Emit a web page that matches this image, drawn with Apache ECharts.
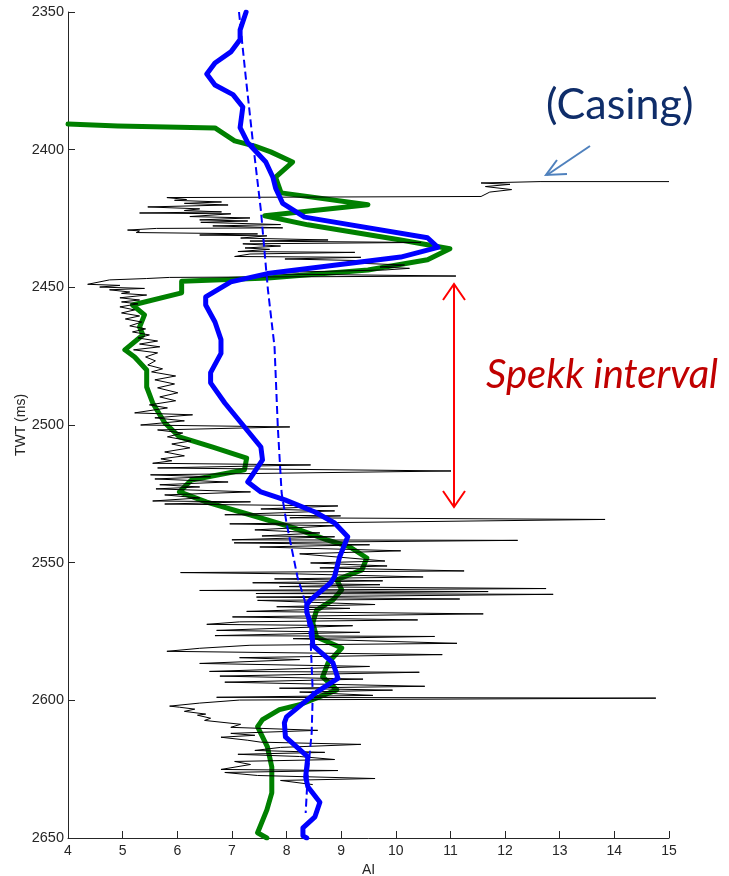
<!DOCTYPE html>
<html>
<head>
<meta charset="utf-8">
<script src="https://cdn.jsdelivr.net/npm/echarts/dist/echarts.min.js"></script>
<style>
html,body{margin:0;padding:0;background:#fff;}
#chart{width:729px;height:876px;}
</style>
</head>
<body>
<div id="chart"></div>
<script>
// ---- Data (AI vs TWT) ----
var xTicks = [4,5,6,7,8,9,10,11,12,13,14,15];
var yTicks = [2350,2400,2450,2500,2550,2600,2650];

// Black: high-resolution AI log
var blackAI = [15.00,12.64,11.56,12.09,11.64,12.12,11.72,11.56,5.81,
6.17,5.95,6.81,6.13,6.93,5.46,6.41,6.13,6.81,5.31,6.98,6.23,7.33,6.41,7.29,6.43,7.89,6.65,7.93,5.62,5.09,5.31,5.25,7.47,6.41,7.64,7.16,8.76,7.33,10.46,7.20,7.89,7.24,7.69,7.11,9.25,7.33,7.05,9.36,7.97,9.59,9.16,10.16,9.71,10.25,9.80,8.24,7.51,11.10,5.86,5.44,4.76,4.36,4.95,4.58,5.40,4.76,5.13,4.98,5.44,
4.95,5.31,4.98,5.28,4.95,5.22,4.98,5.31,5.05,5.35,5.13,5.42,5.18,5.49,5.28,5.64,5.31,5.68,5.20,5.64,5.42,5.60,5.46,5.73,5.53,5.97,5.59,5.95,5.64,6.01,5.68,5.97,5.49,5.82,5.22,6.28,5.59,6.13,5.33,8.06,5.64,6.10,5.82,6.25,5.90,6.23,5.77,6.13,5.70,5.90,
5.55,8.44,5.64,11.01,5.51,6.61,5.59,6.93,5.68,6.41,5.61,7.34,5.77,6.41,5.55,7.34,5.77,8.94,7.53,8.88,6.87,8.99,8.06,13.83,6.96,8.88,7.42,8.61,7.55,8.88,7.00,12.23,7.04,9.52,7.51,10.09,8.24,9.80,8.44,9.84,8.61,11.25,6.06,8.24,10.50,7.78,9.76,7.38,9.71,7.87,12.75,6.41,11.69,7.44,12.88,7.45,11.17,7.47,
9.62,7.82,9.16,7.27,11.60,7.01,10.40,7.14,6.54,9.21,6.72,9.34,6.69,10.71,8.12,11.12,7.33,6.41,5.81,10.85,7.14,8.24,6.41,9.52,6.59,10.43,6.78,9.40,6.87,10.53,7.87,9.94,8.24,9.58,6.72,14.76,7.14,6.41,5.86,6.04,
6.32,6.13,6.52,6.37,6.61,6.50,7.16,6.98,8.57,6.98,7.42,6.80,7.29,7.53,9.36,7.89,7.42,8.70,7.11,8.24,8.88,7.05,7.34,6.80,8.94,6.87,7.47,9.62,7.89,8.48];
var blackTWT = [2411.6,2411.6,2412.1,2412.6,2413.4,2414.5,2415.4,2417.0,2417.4,
2418.1,2418.4,2419.0,2419.5,2420.1,2420.8,2421.5,2422.1,2422.6,2423.0,2423.3,2424.3,2424.8,2425.5,2425.9,2426.4,2427.2,2427.7,2428.4,2428.6,2429.2,2429.5,2430.1,2430.6,2431.0,2431.3,2432.1,2432.8,2433.2,2433.7,2434.2,2435.0,2435.7,2436.2,2437.0,2437.3,2437.9,2438.8,2439.1,2439.7,2440.4,2441.1,2441.9,2442.6,2443.1,2443.7,2444.4,2445.1,2445.9,2446.4,2446.8,2447.3,2448.9,2449.3,2449.9,2450.4,2450.9,2451.7,2452.2,2452.8,
2453.8,2454.6,2455.3,2456.0,2457.1,2458.2,2459.3,2460.4,2461.5,2462.6,2464.0,2465.1,2466.2,2467.3,2468.4,2469.5,2470.6,2471.6,2472.7,2473.8,2475.3,2476.7,2478.2,2479.6,2480.7,2482.2,2483.6,2485.1,2486.5,2488.3,2489.8,2491.2,2492.7,2493.8,2495.6,2496.3,2497.4,2498.5,2500.0,2500.7,2501.8,2502.9,2504.3,2505.8,2506.9,2508.3,2509.8,2511.2,2512.3,2513.0,
2513.9,2514.5,2515.6,2516.7,2518.1,2518.8,2519.6,2520.7,2521.7,2522.5,2523.2,2524.3,2525.4,2526.5,2527.6,2527.9,2528.7,2529.4,2530.5,2531.2,2532.6,2533.0,2533.7,2534.3,2535.9,2536.6,2538.1,2539.2,2540.3,2540.6,2541.7,2541.9,2542.8,2543.5,2544.3,2545.7,2546.8,2549.4,2550.1,2551.2,2551.9,2553.0,2553.6,2554.1,2555.2,2555.9,2556.6,2557.3,2558.0,2558.7,2559.4,2560.1,2560.5,2561.2,2561.5,2562.5,2563.2,2563.7,
2565.2,2566.0,2566.6,2567.7,2568.6,2569.7,2570.8,2571.5,2572.4,2572.9,2574.6,2575.3,2576.5,2576.8,2577.6,2579.3,2580.0,2581.1,2582.2,2583.4,2584.5,2585.2,2586.6,2587.7,2589.5,2589.8,2591.2,2592.3,2593.4,2594.9,2595.6,2596.3,2597.0,2598.2,2598.9,2599.2,2599.9,2601.0,2602.1,2602.5,
2603.2,2604.0,2605.0,2605.4,2606.5,2607.3,2608.7,2609.8,2610.9,2612.0,2612.7,2613.4,2614.5,2615.2,2616.0,2617.1,2618.2,2618.9,2619.6,2620.4,2621.5,2622.2,2623.3,2625.1,2625.5,2626.2,2627.3,2628.4,2629.1,2630.6];

// Green: blocked / upscaled AI
var greenAI = [4.00,4.91,6.69,7.05,7.42,7.71,8.11,7.80,7.90,9.49,7.60,8.39,10.09,10.99,10.58,9.49,7.66,6.08,6.08,5.18,5.40,5.31,5.37,5.04,5.22,5.44,5.44,5.55,5.77,6.04,6.65,7.27,7.23,6.26,6.04,6.54,7.33,8.12,8.74,9.16,9.47,9.38,8.92,9.01,8.85,8.55,8.48,8.55,9.01,8.76,8.66,8.92,8.24,7.87,7.56,7.47,7.65,7.73,7.73,7.64,7.47,7.64];
var greenTWT = [2390.7,2391.4,2392.1,2396.8,2398.7,2400.8,2404.5,2410,2415.7,2420,2424,2427.3,2432.8,2436,2440,2443.7,2446.6,2447.8,2452,2456.4,2460,2464.4,2467.3,2472.7,2475.3,2480,2486.2,2492,2499.2,2504.3,2508,2512,2516.3,2520,2524.3,2528,2532.6,2537.3,2541.7,2544.3,2548.3,2552.6,2556.2,2559.9,2563.5,2567.2,2571.9,2577,2581,2586.4,2591.5,2596.2,2601.6,2603.4,2607,2609.6,2616.9,2624.2,2633.6,2639.8,2648.1,2650];

// Blue: inverted AI
var blueAI = [7.26,7.15,7.15,6.98,6.69,6.54,6.69,7.02,7.20,7.15,7.29,7.62,7.75,7.80,7.93,8.33,10.58,10.77,10.09,7.65,6.98,6.52,6.52,6.69,6.80,6.80,6.61,6.61,6.87,7.53,7.56,7.29,7.53,7.97,8.52,8.88,9.12,8.97,8.88,8.81,8.44,8.37,8.37,8.46,8.48,8.85,8.94,8.55,8.00,7.96,7.98,8.39,8.35,8.39,8.61,8.52,8.30,8.30,8.37];
var blueTWT = [2350,2356.5,2360,2364.5,2368.5,2372.5,2376.5,2380,2384.5,2392,2397.5,2404.5,2410,2414,2419.5,2424.5,2432,2435.5,2439,2445,2448,2453.5,2456.4,2462.6,2469,2474,2481,2484.7,2492,2508,2512.7,2520.7,2524.3,2527.2,2531.6,2535.6,2540.6,2548,2555,2557.3,2563.5,2565.3,2568,2573.3,2580,2586.4,2592,2597,2606,2608.2,2613.3,2620.5,2627.8,2631.4,2637,2642.3,2646.3,2649.2,2650];

// Blue dashed: low-frequency trend
var dashAI = [7.13,7.25,7.38,7.53,7.66,7.78,7.84,7.91,8.00,8.20,8.33,8.44,8.48,8.46,8.39,8.35];
var dashTWT = [2350,2373,2396.5,2422,2451,2471.6,2500.7,2524.7,2535.6,2555.2,2563.5,2578,2597.3,2611.8,2626.3,2640.9];

function zip(a, b) { return a.map(function (v, i) { return [v, b[i]]; }); }

var chart = echarts.init(document.getElementById('chart'), null, {renderer: 'canvas'});
var axisColor = '#262626';
var option = {
  animation: false,
  backgroundColor: '#ffffff',
  grid: {left: 68, right: 60, top: 12, bottom: 38, containLabel: false, outerBoundsMode: 'none'},
  xAxis: {
    type: 'value', min: xTicks[0], max: xTicks[xTicks.length - 1], interval: 1,
    name: 'AI', nameLocation: 'middle', nameGap: 19,
    nameTextStyle: {fontSize: 14, color: axisColor, fontFamily: 'Liberation Sans'},
    axisLine: {show: true, onZero: false, lineStyle: {color: axisColor, width: 1}},
    axisTick: {show: true, inside: true, length: 7, lineStyle: {color: axisColor}},
    axisLabel: {fontSize: 14, color: axisColor, margin: 6, fontFamily: 'Liberation Sans',
                formatter: function (v) { return String(v); }},
    splitLine: {show: false}
  },
  yAxis: {
    type: 'value', inverse: true, min: yTicks[0], max: yTicks[yTicks.length - 1], interval: 50,
    name: 'TWT (ms)', nameLocation: 'middle', nameGap: 40, nameRotate: 90, nameMoveOverlap: false,
    nameTextStyle: {fontSize: 14, color: axisColor, fontFamily: 'Liberation Sans'},
    axisLine: {show: true, onZero: false, lineStyle: {color: axisColor, width: 1}},
    axisTick: {show: true, inside: true, length: 7, lineStyle: {color: axisColor}},
    axisLabel: {fontSize: 14.5, color: axisColor, margin: 4, fontFamily: 'Liberation Sans',
                formatter: function (v) { return String(v); }},
    splitLine: {show: false}
  },
  series: [
    {type: 'line', data: zip(greenAI, greenTWT), showSymbol: false, symbol: 'none',
     lineStyle: {color: '#008000', width: 5, join: 'round', cap: 'round'}, z: 2},
    {type: 'line', data: zip(blackAI, blackTWT), showSymbol: false, symbol: 'none',
     lineStyle: {color: '#000000', width: 1}, z: 3},
    {type: 'line', data: zip(blueAI, blueTWT), showSymbol: false, symbol: 'none',
     lineStyle: {color: '#0000FF', width: 5, join: 'round', cap: 'round'}, z: 4},
    {type: 'line', data: zip(dashAI, dashTWT), showSymbol: false, symbol: 'none',
     lineStyle: {color: '#0000FF', width: 2, type: [8, 4]}, z: 5}
  ],
  graphic: [
    {type: 'text', left: 546, top: 84, z: 10,
     style: {text: '(Casing)', font: '43px Lato', fill: '#0F2D69'}},
    {type: 'line', z: 10, shape: {x1: 590, y1: 146, x2: 547, y2: 175},
     style: {stroke: '#4F81BD', lineWidth: 2}},
    {type: 'polyline', z: 10, shape: {points: [[557, 160], [546, 175], [567, 174]]},
     style: {stroke: '#4F81BD', lineWidth: 2, fill: null}},
    {type: 'text', left: 486, top: 355, z: 10,
     style: {text: 'Spekk interval', font: 'italic 40px Lato', fill: '#C00000'}},
    {type: 'line', z: 10, shape: {x1: 454, y1: 284, x2: 454, y2: 507},
     style: {stroke: '#FF0000', lineWidth: 2}},
    {type: 'polyline', z: 10, shape: {points: [[443, 300], [454, 284], [465, 300]]},
     style: {stroke: '#FF0000', lineWidth: 2, fill: null}},
    {type: 'polyline', z: 10, shape: {points: [[443, 491], [454, 507], [465, 491]]},
     style: {stroke: '#FF0000', lineWidth: 2, fill: null}}
  ]
};
chart.setOption(option);
</script>
</body>
</html>
